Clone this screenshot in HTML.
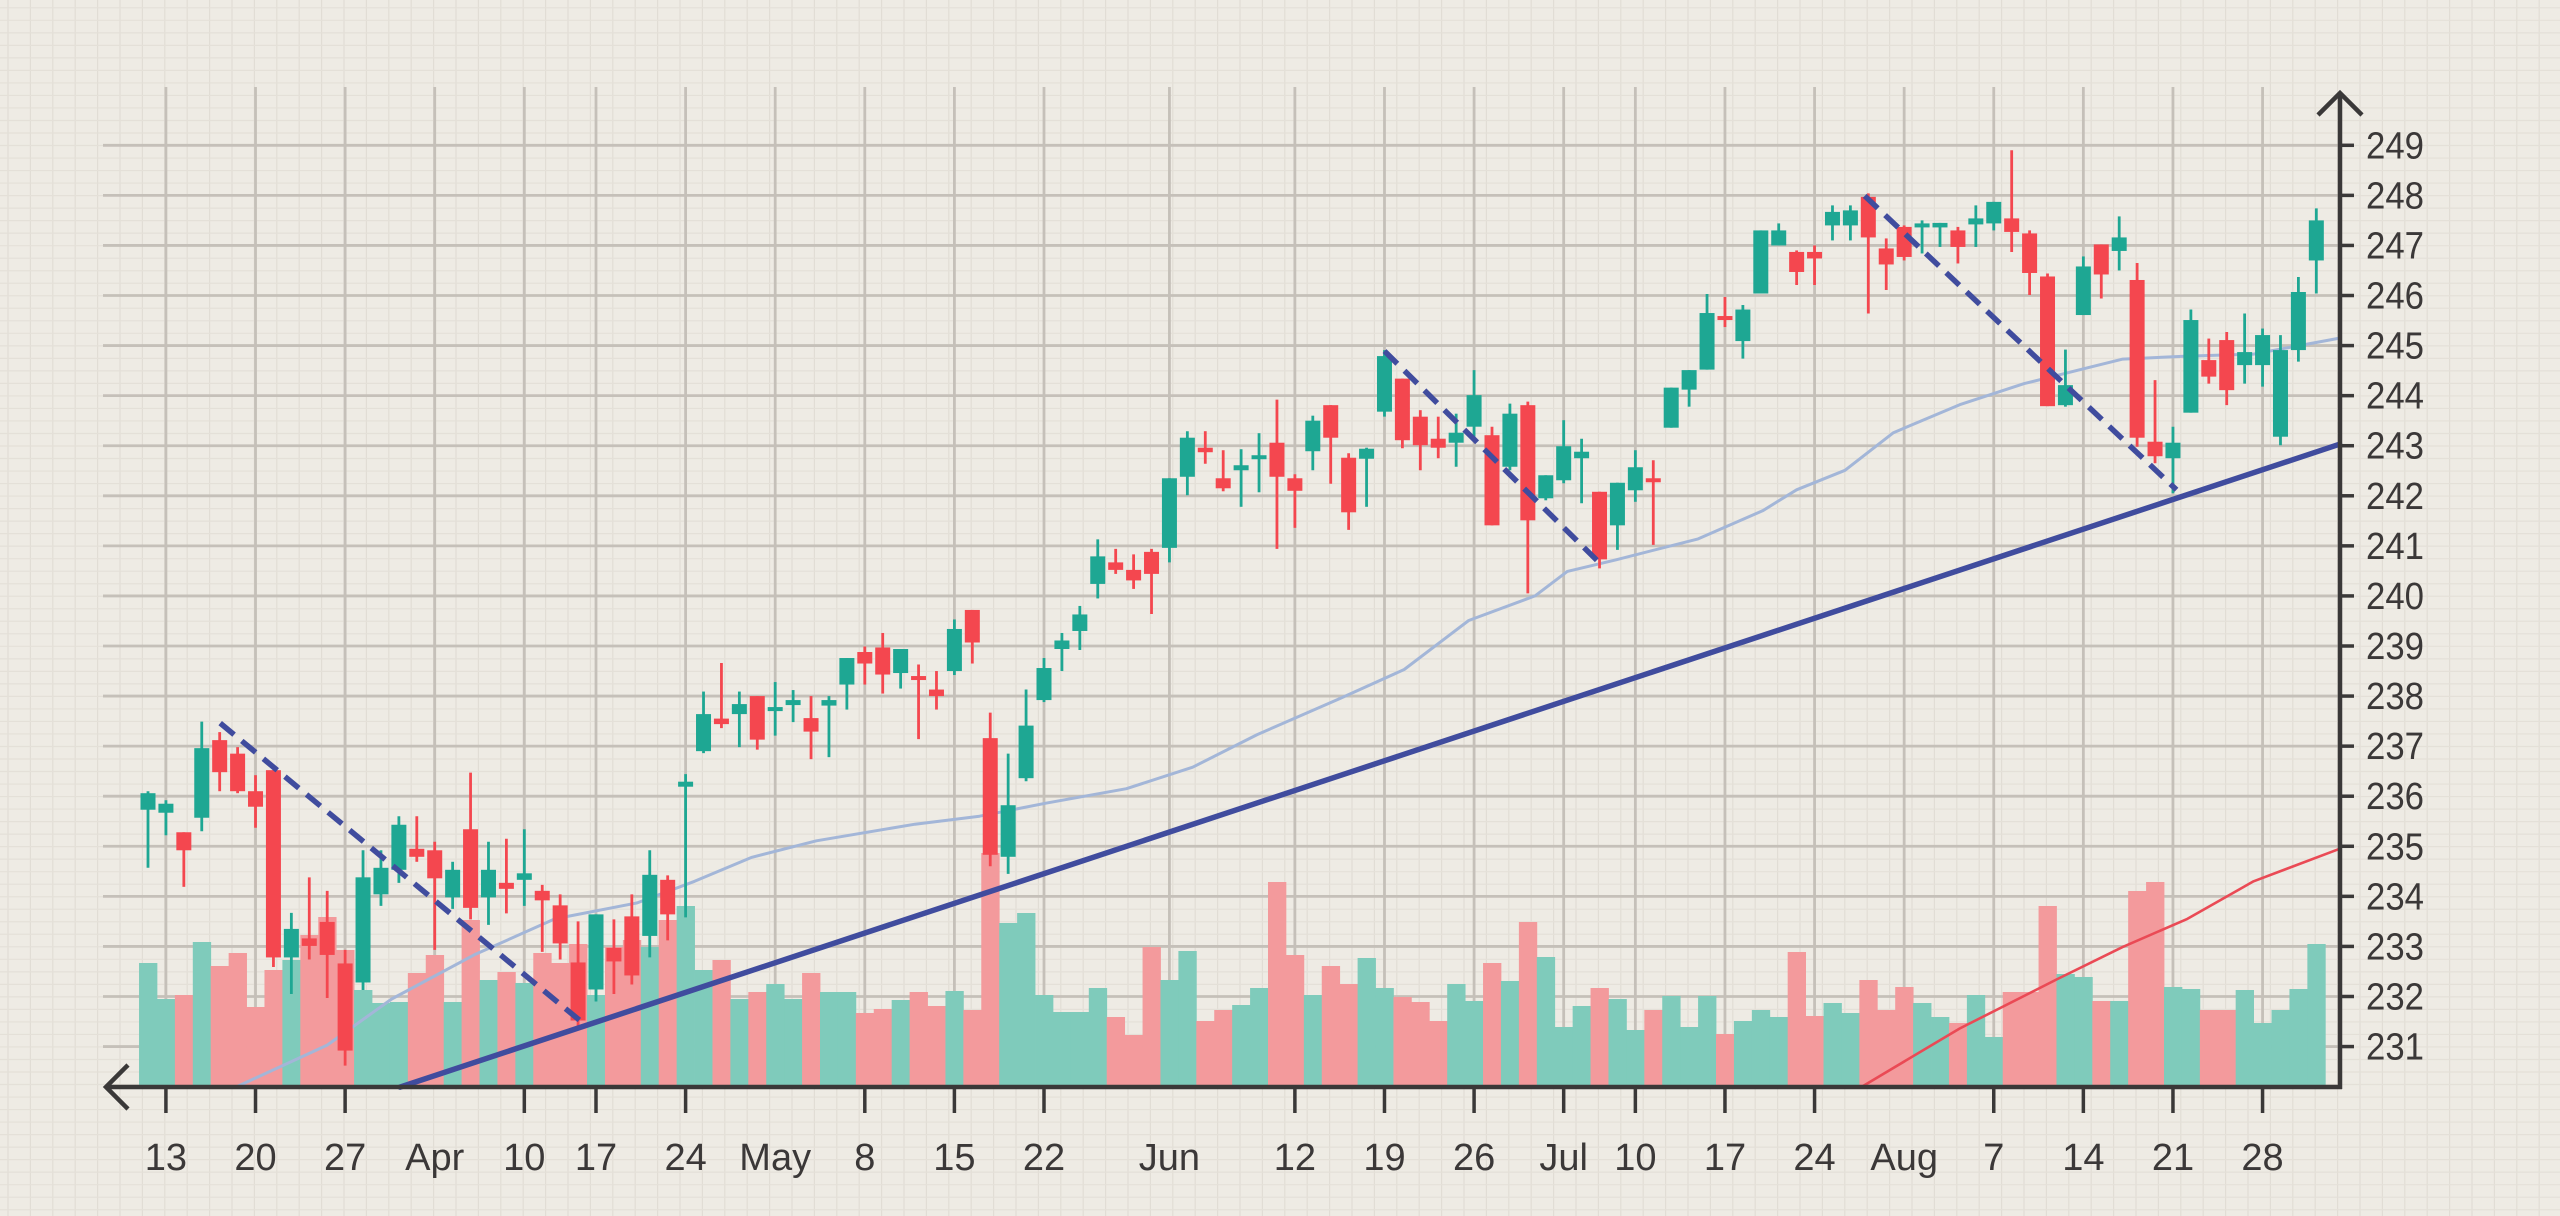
<!DOCTYPE html>
<html><head><meta charset="utf-8"><style>
html,body{margin:0;padding:0;background:#eeebe4;}
svg{display:block;}
text{font-family:"Liberation Sans Narrow","Liberation Sans",sans-serif;fill:#3b3838;}
</style></head><body>
<svg id="chart" width="2560" height="1216" viewBox="0 0 2560 1216" xmlns="http://www.w3.org/2000/svg">
<rect x="0" y="0" width="2560" height="1216" fill="#eeebe4"/>
<g id="minor"></g>
<g id="major"></g>
<g id="vol"></g>
<g id="lines"></g>
<g id="candles"></g>
<g id="trend"></g>
<g id="axes"></g>
</svg>
<script>
const opens=[235.73,235.67,235.28,235.57,237.12,236.85,236.10,236.52,232.78,233.16,233.49,232.66,232.28,234.04,234.53,234.95,234.92,233.98,235.34,233.98,234.27,234.33,234.11,233.82,232.68,232.14,232.97,233.60,233.21,234.33,236.19,236.90,237.55,237.64,238.00,237.70,237.82,237.56,237.81,238.23,238.88,238.97,238.46,238.40,238.13,238.50,239.72,237.16,234.79,236.36,237.92,238.94,239.30,240.24,240.67,240.52,240.88,240.96,242.38,242.96,242.35,242.51,242.74,243.06,242.35,242.89,243.81,242.76,242.74,243.68,244.34,243.58,243.14,243.06,243.38,243.21,242.58,243.81,241.95,242.31,242.75,242.08,241.41,242.11,242.35,243.36,244.12,244.52,245.59,245.09,246.04,247.00,246.87,246.87,247.40,247.40,247.97,246.94,247.37,247.36,247.36,247.30,247.42,247.44,247.54,247.24,246.38,243.81,245.61,247.02,246.89,246.31,243.08,242.75,243.66,244.71,245.11,244.61,244.61,243.18,244.91,246.70];
const highs=[236.10,235.92,235.28,237.49,237.28,236.98,236.42,236.52,233.67,234.38,234.11,232.93,234.92,234.92,235.60,235.60,235.09,234.69,236.47,235.09,235.15,235.34,234.23,234.04,233.50,233.64,233.54,234.04,234.92,234.42,236.44,238.09,238.66,238.09,238.00,238.28,238.12,238.00,238.00,238.76,238.99,239.26,238.94,238.63,238.50,239.53,239.72,237.67,236.85,238.13,238.76,239.26,239.80,241.13,240.94,240.83,240.94,242.35,243.29,243.29,242.91,242.93,243.25,243.92,242.43,243.60,243.81,242.85,242.96,244.91,244.34,243.71,243.58,243.64,244.51,243.38,243.84,243.88,242.41,243.51,243.14,242.08,242.26,242.91,242.71,244.16,244.51,246.03,245.97,245.81,247.30,247.44,246.90,247.00,247.80,247.80,248.04,247.14,247.40,247.50,247.45,247.37,247.80,247.87,248.90,247.30,246.44,244.92,246.78,247.02,247.58,246.65,244.31,243.38,245.72,245.14,245.27,245.64,245.34,245.21,246.37,247.74];
const lows=[234.57,235.22,234.19,235.30,236.10,236.06,235.37,232.59,232.05,232.74,231.97,230.62,232.13,233.81,234.27,234.69,232.93,233.75,233.54,233.43,233.66,233.81,232.89,232.74,231.33,231.90,232.05,232.24,232.78,233.12,233.58,236.86,237.36,236.98,236.93,237.21,237.48,236.74,236.78,237.73,238.23,238.05,238.15,237.14,237.73,238.42,238.65,234.60,234.45,236.30,237.88,238.50,238.92,239.95,240.44,240.14,239.64,240.67,242.01,242.64,242.09,241.78,242.07,240.94,241.36,242.51,242.24,241.32,241.78,243.58,242.95,242.51,242.75,242.58,243.18,241.41,242.51,240.05,241.91,242.25,241.85,240.55,240.92,241.88,241.02,243.36,243.78,244.52,245.37,244.74,246.04,247.00,246.21,246.21,247.10,247.10,245.64,246.11,246.70,246.84,246.97,246.64,246.97,247.30,246.87,246.01,243.79,243.78,245.61,245.94,246.50,242.98,242.65,242.05,243.66,244.24,243.81,244.24,244.18,243.01,244.68,246.04];
const closes=[236.06,235.85,234.92,236.96,236.48,236.10,235.79,232.78,233.35,233.01,232.83,230.92,234.38,234.57,235.43,234.79,234.36,234.53,233.77,234.53,234.15,234.46,233.92,233.06,231.52,233.64,232.70,232.42,234.43,233.64,236.29,237.64,237.44,237.84,237.13,237.78,237.92,237.29,237.92,238.76,238.65,238.43,238.94,238.33,238.00,239.34,239.07,234.83,235.82,237.41,238.56,239.11,239.63,240.79,240.52,240.31,240.44,242.35,243.16,242.87,242.15,242.61,242.81,242.38,242.10,243.50,243.16,241.67,242.94,244.79,243.11,243.01,242.96,243.26,244.01,241.41,243.64,241.51,242.41,242.99,242.88,240.73,242.26,242.57,242.30,244.16,244.51,245.65,245.54,245.72,247.30,247.30,246.47,246.74,247.67,247.70,247.16,246.62,246.77,247.44,247.45,246.97,247.54,247.87,247.27,246.45,243.79,244.21,246.58,246.42,247.16,243.16,242.79,243.06,245.51,244.38,244.11,244.87,245.21,244.91,246.07,247.50];
const volumes=[124,88,92,145,121,134,80,117,127,152,170,137,97,84,85,114,132,85,167,107,115,104,134,124,143,92,140,147,140,167,181,117,127,88,95,103,88,114,95,95,74,78,87,95,81,96,77,234,164,174,92,75,75,99,70,52,140,107,136,66,77,82,99,205,132,92,121,103,129,99,90,85,66,103,86,124,106,165,130,60,81,99,88,57,77,91,60,91,53,66,77,70,135,71,84,74,107,77,100,84,70,64,92,50,95,95,181,113,110,86,86,196,205,100,98,77,77,97,64,77,98,143];
const maIdx=[4.9,10,13.6,18.2,22.7,27.3,30.5,33.7,37.3,42.8,46.4,50.1,54.6,58.3,61.9,66.5,70.1,73.7,77.4,79.2,81.9,86.5,90.1,92,94.7,97.4,101.1,104.7,108.4,110.2,113.8,117.5,122.3];
const maVal=[230.19,231.03,231.95,232.83,233.55,233.87,234.3,234.78,235.11,235.44,235.6,235.86,236.15,236.58,237.23,237.95,238.53,239.51,240.0,240.49,240.72,241.14,241.7,242.12,242.51,243.26,243.82,244.24,244.57,244.73,244.79,244.83,245.15];
const ma2Idx=[95.6,101.1,106.5,110.2,113.8,117.5,122.3];
const ma2Val=[230.19,231.36,232.34,232.99,233.55,234.3,234.95];
const trendIdx=[14.06,122.3];
const trendVal=[230.19,243.03];
const dash1Idx=[4.03,24.3], dash1Val=[237.46,231.46];
const dash2Idx=[69.0,81.2], dash2Val=[244.89,240.59];
const dash3Idx=[95.8,113.2], dash3Val=[247.99,242.12];
const yTicks=[231,232,233,234,235,236,237,238,239,240,241,242,243,244,245,246,247,248,249];
const xLabels=["13","20","27","Apr","10","17","24","May","8","15","22","Jun","12","19","26","Jul","10","17","24","Aug","7","14","21","28"];
const xLabelIdx=[1,6,11,16,21,25,30,35,40,45,50,57,64,69,74,79,83,88,93,98,103,108,113,118];
const xHasTick=[1,1,1,0,1,1,1,0,1,1,1,0,1,1,1,1,1,1,1,0,1,1,1,1];

const NS="http://www.w3.org/2000/svg";
const X0=148, DX=17.92, AXY=1087, AXX=2340;
function xs(i){return X0+DX*i;}
function ys(p){return 145.3+(249-p)*50.07;}
function yv(v){return AXY-v;}
function mk(tag,attrs,parent){const e=document.createElementNS(NS,tag);for(const k in attrs)e.setAttribute(k,attrs[k]);parent.appendChild(e);return e;}

const minor=document.getElementById('minor');
for(let x=8;x<2560;x+=22.4){const l=mk('line',{x1:x,y1:0,x2:x,y2:1216,stroke:'#e1ddd5','stroke-width':1.2},minor);

}
for(let y=7.8;y<1216;y+=12.52){const l=mk('line',{x1:0,y1:y,x2:2560,y2:y,stroke:'#e4e0d8','stroke-width':1.2},minor);

}
const major=document.getElementById('major');
yTicks.forEach(t=>{const l=mk('line',{x1:103,y1:ys(t),x2:AXX,y2:ys(t),stroke:'#c5c0b9','stroke-width':2.8},major);

});
xLabelIdx.forEach(i=>{const l=mk('line',{x1:xs(i),y1:87,x2:xs(i),y2:AXY,stroke:'#c5c0b9','stroke-width':2.8},major);

});

const vol=document.getElementById('vol');
volumes.forEach((v,i)=>{const up=closes[i]>=opens[i];
const r=mk('rect',{x:xs(i)-DX/2,y:yv(v),width:DX+0.4,height:v,fill:up?'#7fcbbb':'#f39a9c'},vol);

});

const lines=document.getElementById('lines');
function poly(idx,val,stroke,w,parent,name,dash){
 const pts=idx.map((t,k)=>xs(t).toFixed(1)+','+ys(val[k]).toFixed(1)).join(' ');
 const p=mk('polyline',{points:pts,fill:'none',stroke:stroke,'stroke-width':w,'stroke-linecap':dash?'butt':'round','stroke-linejoin':'round'},parent);
 if(dash)p.setAttribute('stroke-dasharray',dash);
 
 
 return p;}
poly(maIdx,maVal,'#a3b6d8',3,lines,'moving-average-blue');
poly(ma2Idx,ma2Val,'#ea4a55',2.6,lines,'moving-average-red');

const cg=document.getElementById('candles');
opens.forEach((o,i)=>{const c=closes[i],up=c>=o,col=up?'#1ea793':'#f4474f';const x=xs(i);
 const w=mk('line',{x1:x,y1:ys(highs[i]),x2:x,y2:ys(lows[i]),stroke:col,'stroke-width':2.8},cg);
 
 
 const top=ys(Math.max(o,c)),bot=ys(Math.min(o,c));
 const b=mk('rect',{x:x-7.5,y:top,width:15,height:Math.max(bot-top,4),fill:col},cg);
 
 });

const tg=document.getElementById('trend');
poly(trendIdx,trendVal,'#404c9e',5.5,tg,'support-trend-line');
poly(dash1Idx,dash1Val,'#404c9e',5.5,tg,'downtrend-dashed-line-1','18,10');
poly(dash2Idx,dash2Val,'#404c9e',5.5,tg,'downtrend-dashed-line-2','18,10');
poly(dash3Idx,dash3Val,'#404c9e',5.5,tg,'downtrend-dashed-line-3','18,10');

const ax=document.getElementById('axes');
let e;
e=mk('line',{x1:106,y1:AXY,x2:AXX+2,y2:AXY,stroke:'#3a3838','stroke-width':4.5},ax);


e=mk('polyline',{points:'128,1065 106,1087 128,1109',fill:'none',stroke:'#3a3838','stroke-width':4.5},ax);


e=mk('line',{x1:AXX,y1:93,x2:AXX,y2:AXY+2,stroke:'#3a3838','stroke-width':4.5},ax);


e=mk('polyline',{points:'2318,115 2340,93 2362,115',fill:'none',stroke:'#3a3838','stroke-width':4.5},ax);


yTicks.forEach(t=>{const y=ys(t);
 const l=mk('line',{x1:AXX,y1:y,x2:AXX+14,y2:y,stroke:'#3a3838','stroke-width':3.5},ax);
 
 
 const tx=mk('text',{x:2366,y:y+13,'font-size':38,'textLength':58,'lengthAdjust':'spacingAndGlyphs'},ax);tx.textContent=String(t);
 
 });
xLabels.forEach((s,k)=>{const x=xs(xLabelIdx[k]);
 if(xHasTick[k]){const l=mk('line',{x1:x,y1:AXY,x2:x,y2:1113,stroke:'#3a3838','stroke-width':3.5},ax);
 
 }
 const tx=mk('text',{x:x,y:1170,'font-size':38,'text-anchor':'middle'},ax);tx.textContent=s;
 
 });
</script>
</body></html>
